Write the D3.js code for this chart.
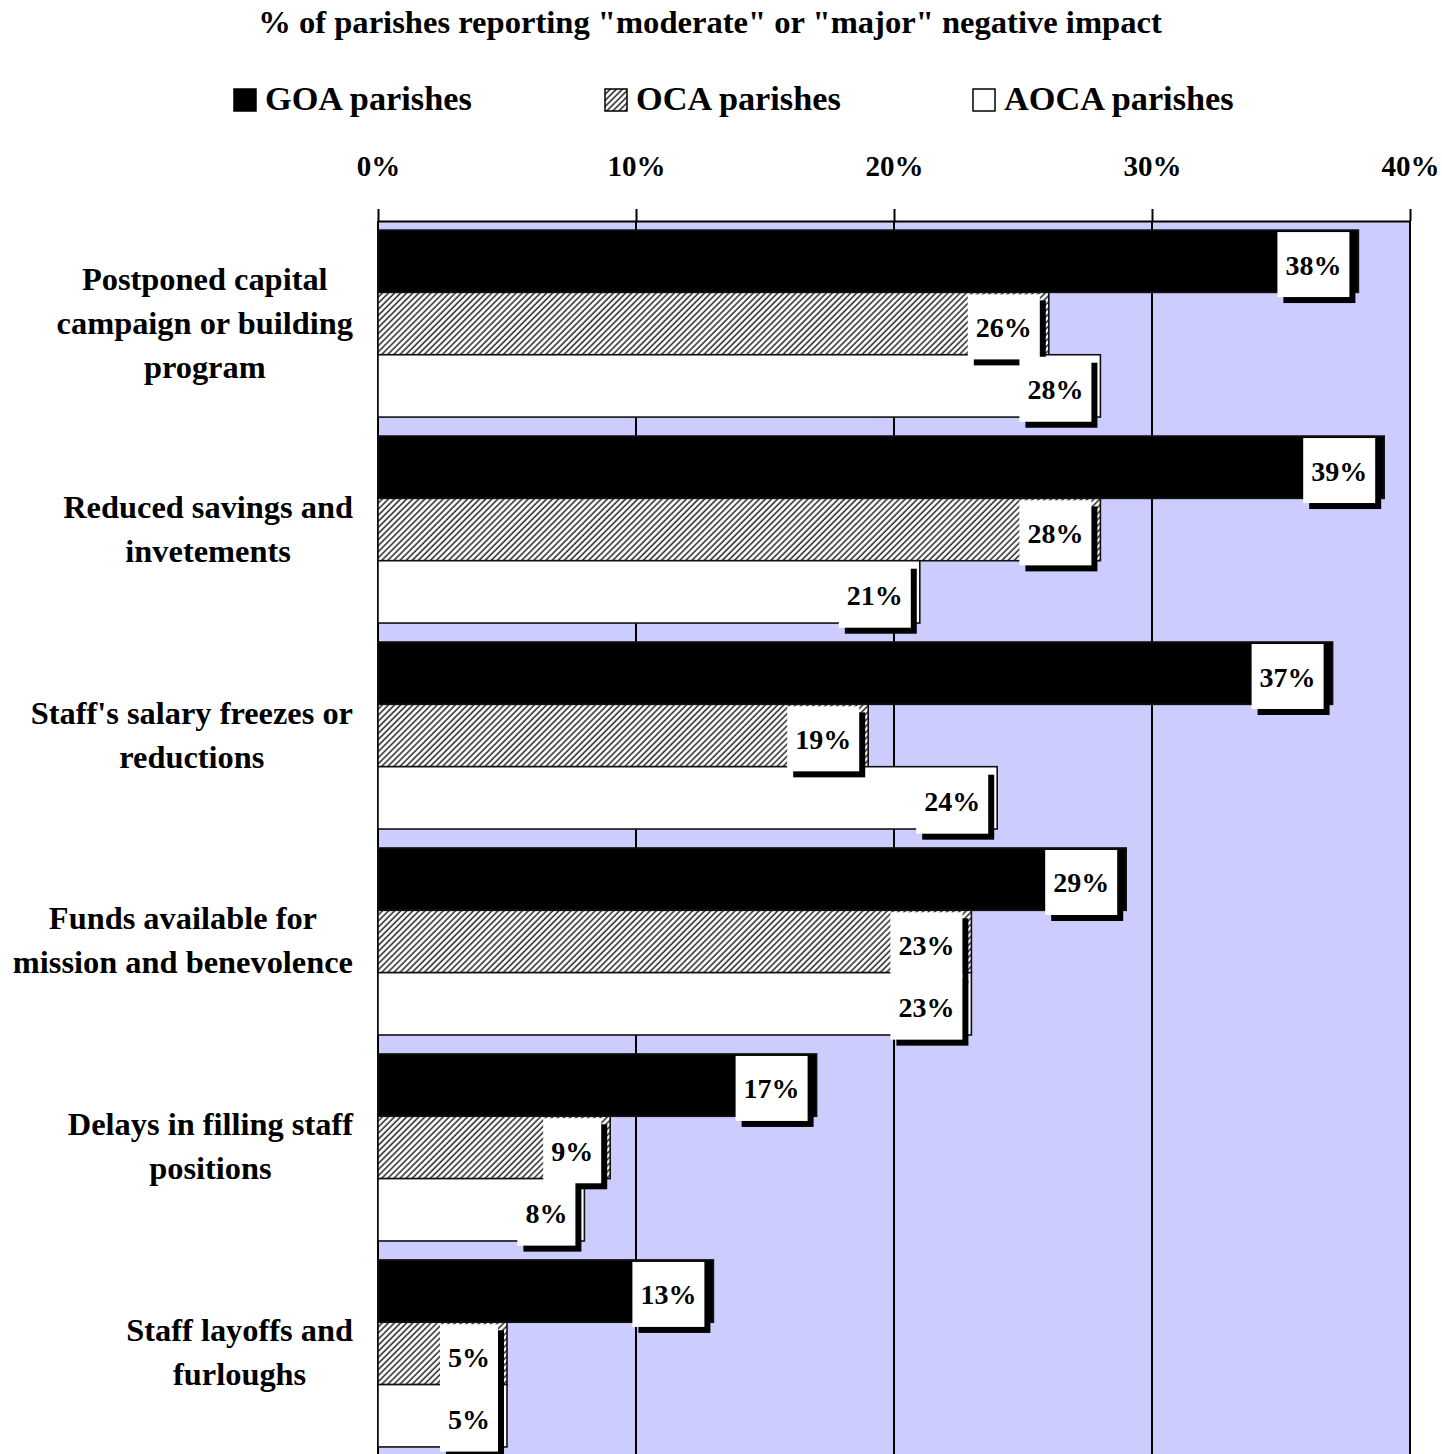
<!DOCTYPE html>
<html>
<head>
<meta charset="utf-8">
<script src="https://cdn.jsdelivr.net/npm/d3@7"></script>
<style>
  html, body { margin: 0; padding: 0; background: #ffffff; }
  svg { display: block; }
  text { font-family: "Liberation Serif", "DejaVu Serif", serif; font-weight: bold; fill: #000; }
</style>
</head>
<body>
<script>
// Share of parishes reporting a "moderate" or "major" negative impact
const categories = [
  ["Postponed capital", "campaign or building", "program"],
  ["Reduced savings and", "invetements"],
  ["Staff's salary freezes or", "reductions"],
  ["Funds available for", "mission and benevolence"],
  ["Delays in filling staff", "positions"],
  ["Staff layoffs and", "furloughs"]
];
const seriesNames = ["GOA parishes", "OCA parishes", "AOCA parishes"];
const goaValues  = [38, 39, 37, 29, 17, 13];
const ocaValues  = [26, 28, 19, 23, 9, 5];
const aocaValues = [28, 21, 24, 23, 8, 5];
const tickValues = [0, 10, 20, 30, 40];
const titleText = '% of parishes reporting "moderate" or "major" negative impact';

const W = 1442, H = 1454;
const svg = d3.select("body").append("svg").attr("width", W).attr("height", H);

const defs = svg.append("defs");
const hatch = defs.append("pattern")
  .attr("id", "hatch")
  .attr("patternUnits", "userSpaceOnUse")
  .attr("width", 4.3).attr("height", 4.3)
  .attr("patternTransform", "rotate(45)");
hatch.append("rect").attr("width", 4.3).attr("height", 4.3).attr("fill", "#ffffff");
hatch.append("line").attr("x1", 1).attr("y1", 0).attr("x2", 1).attr("y2", 4.3)
  .attr("stroke", "#333").attr("stroke-width", 1.6);

const fills = ["#000000", "url(#hatch)", "#ffffff"];
const seriesValues = [goaValues, ocaValues, aocaValues];

const catKeys = categories.map((c, i) => "c" + i);
const rows = catKeys.map((k, i) => ({ key: k, lines: categories[i], values: seriesValues.map(s => s[i]) }));

const plotLeft = 378, plotRight = 1410, plotTop = 221, plotBottom = 1456;

const x = d3.scaleLinear().domain([0, 40]).range([plotLeft, plotRight]);
const y = d3.scaleBand().domain(catKeys).range([plotTop, plotBottom])
  .paddingInner(0.092).paddingOuter(0.044);
const ySub = d3.scaleBand().domain(d3.range(seriesNames.length)).range([0, y.bandwidth()]);

// Plot background
svg.append("rect")
  .attr("x", plotLeft).attr("y", plotTop)
  .attr("width", plotRight - plotLeft).attr("height", H - plotTop + 10)
  .attr("fill", "#ccccff");

// Vertical gridlines
svg.append("g").selectAll("line").data(tickValues).join("line")
  .attr("x1", d => x(d)).attr("x2", d => x(d))
  .attr("y1", plotTop).attr("y2", H + 5)
  .attr("stroke", "#000").attr("stroke-width", 2);

// Top axis
const axis = svg.append("g")
  .attr("transform", `translate(0,${plotTop})`)
  .call(d3.axisTop(x).tickValues(tickValues).tickFormat(d => d + "%")
    .tickSize(12).tickSizeOuter(0).tickPadding(33));
axis.select(".domain").attr("stroke", "#000").attr("stroke-width", 2);
axis.selectAll(".tick line").attr("stroke", "#000").attr("stroke-width", 2);
axis.selectAll(".tick text")
  .attr("font-family", '"Liberation Serif", serif')
  .attr("font-weight", "bold")
  .attr("font-size", 29)
  .attr("fill", "#000");

// Bars
const groups = svg.append("g").selectAll("g").data(rows).join("g")
  .attr("transform", d => `translate(0,${y(d.key)})`);

groups.selectAll("rect").data(d => d.values.map((v, j) => ({ v, j }))).join("rect")
  .attr("x", x(0))
  .attr("y", d => ySub(d.j))
  .attr("width", d => x(d.v) - x(0))
  .attr("height", ySub.bandwidth())
  .attr("fill", d => fills[d.j])
  .attr("stroke", "#111")
  .attr("stroke-width", 1.6);

// Value labels: white boxes with drop shadows
const labelLayer = svg.append("g");
rows.forEach(r => {
  r.values.forEach((v, j) => {
    const g = labelLayer.append("g");
    const t = g.append("text")
      .attr("font-size", 28)
      .attr("text-anchor", "middle")
      .text(v + "%");
    const tw = t.node().getComputedTextLength();
    const bw = tw + 16, bh = 65;
    const right = x(v) - 9;
    const top = y(r.key) + ySub(j) + 2;
    g.insert("rect", "text")
      .attr("x", right - bw + 6).attr("y", top + 6)
      .attr("width", bw).attr("height", bh).attr("fill", "#000");
    g.insert("rect", "text")
      .attr("x", right - bw).attr("y", top)
      .attr("width", bw).attr("height", bh).attr("fill", "#fff");
    t.attr("x", right - bw / 2).attr("y", top + bh / 2 + 10);
  });
});

// Category labels (centred block, right-aligned to the axis)
const labelRight = 353, lineH = 44;
rows.forEach(r => {
  const g = svg.append("g");
  const cy = y(r.key) + y.bandwidth() / 2;
  const n = r.lines.length;
  const texts = r.lines.map((line, i) => g.append("text")
    .attr("font-size", 32.4)
    .attr("text-anchor", "middle")
    .attr("y", cy + (i - (n - 1) / 2) * lineH + 10)
    .text(line));
  const maxW = d3.max(texts, t => t.node().getComputedTextLength());
  texts.forEach(t => t.attr("x", labelRight - maxW / 2));
});

// Title
svg.append("text")
  .attr("x", 710).attr("y", 33)
  .attr("font-size", 32.6)
  .attr("text-anchor", "middle")
  .text(titleText);

// Legend
const legendX = [233, 604, 972];
const legend = svg.append("g").selectAll("g").data(seriesNames).join("g")
  .attr("transform", (d, i) => `translate(${legendX[i]},88)`);
legend.append("rect")
  .attr("x", 1).attr("y", 1).attr("width", 22).attr("height", 22)
  .attr("fill", (d, i) => fills[i])
  .attr("stroke", "#000").attr("stroke-width", 1.5);
legend.append("text")
  .attr("x", 32).attr("y", 22)
  .attr("font-size", 34.3)
  .text(d => d);
</script>
</body>
</html>
